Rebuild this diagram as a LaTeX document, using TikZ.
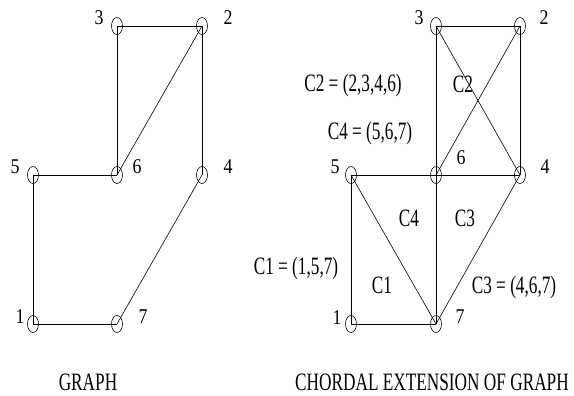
\documentclass[tikz,border=0pt]{standalone}
\usepackage{fontspec}
\setmainfont{Liberation Serif}
\usetikzlibrary{shapes.geometric}

\begin{document}
\begin{tikzpicture}[
    x=1pt, y=-1pt,
    vtx/.style={draw, ellipse, minimum width=11pt, minimum height=17pt, inner sep=0pt, line width=0.6pt},
    num/.style={font=\fontsize{21}{24}\selectfont, inner sep=0pt, xscale=0.85, transform shape},
    lbl/.style={font=\fontsize{25}{28}\selectfont, inner sep=0pt, xscale=0.69, transform shape},
    edge/.style={line width=0.6pt},
]
\useasboundingbox (0,0) rectangle (574,396);

% left: the graph
\node[vtx] (g3) at (117,26) {};
\node[vtx] (g2) at (202,26) {};
\node[vtx] (g5) at (33,175) {};
\node[vtx] (g6) at (117,175) {};
\node[vtx] (g4) at (202,175) {};
\node[vtx] (g1) at (33,324) {};
\node[vtx] (g7) at (117,324) {};

\node[num] (gl3) at (99,18) {3};
\node[num] (gl2) at (228,18) {2};
\node[num] (gl5) at (15,167) {5};
\node[num] (gl6) at (137,167) {6};
\node[num] (gl4) at (228,167) {4};
\node[num] (gl1) at (20,317) {1};
\node[num] (gl7) at (143,317) {7};

\draw[edge] (g3.center) -- (g2.center);
\draw[edge] (g3.center) -- (g6.center);
\draw[edge] (g2.center) -- (g6.center);
\draw[edge] (g2.center) -- (g4.center);
\draw[edge] (g5.center) -- (g6.center);
\draw[edge] (g5.center) -- (g1.center);
\draw[edge] (g1.center) -- (g7.center);
\draw[edge] (g7.center) -- (g4.center);

\node[lbl] (gcap) at (88,382) {GRAPH};

% right: chordal extension
\node[vtx] (c3) at (436,26) {};
\node[vtx] (c2) at (520,26) {};
\node[vtx] (c5) at (351,175) {};
\node[vtx] (c6) at (436,175) {};
\node[vtx] (c4) at (520,175) {};
\node[vtx] (c1) at (351,324) {};
\node[vtx] (c7) at (436,324) {};

\node[num] (cl3) at (419,18) {3};
\node[num] (cl2) at (544,18) {2};
\node[num] (cl5) at (335,167) {5};
\node[num] (cl6) at (461,158) {6};
\node[num] (cl4) at (545,167) {4};
\node[num] (cl1) at (337,318) {1};
\node[num] (cl7) at (460,317) {7};

\draw[edge] (c3.center) -- (c2.center);
\draw[edge] (c3.center) -- (c6.center);
\draw[edge] (c3.center) -- (c4.center);
\draw[edge] (c2.center) -- (c6.center);
\draw[edge] (c2.center) -- (c4.center);
\draw[edge] (c5.center) -- (c6.center);
\draw[edge] (c6.center) -- (c4.center);
\draw[edge] (c5.center) -- (c1.center);
\draw[edge] (c5.center) -- (c7.center);
\draw[edge] (c6.center) -- (c7.center);
\draw[edge] (c1.center) -- (c7.center);
\draw[edge] (c7.center) -- (c4.center);

\node[lbl] (k2) at (353,85) {C2 = (2,3,4,6)};
\node[lbl] (k2in) at (463,84) {C2};
\node[lbl] (k4) at (370,133) {C4 = (5,6,7)};
\node[lbl] (k4in) at (409,218) {C4};
\node[lbl] (k3in) at (465,218) {C3};
\node[lbl] (k1) at (296,268) {C1 = (1,5,7)};
\node[lbl] (k1in) at (382,285) {C1};
\node[lbl] (k3) at (514,287) {C3 = (4,6,7)};

\node[lbl] (ccap) at (432,382) {CHORDAL EXTENSION OF GRAPH};
\end{tikzpicture}
\end{document}
